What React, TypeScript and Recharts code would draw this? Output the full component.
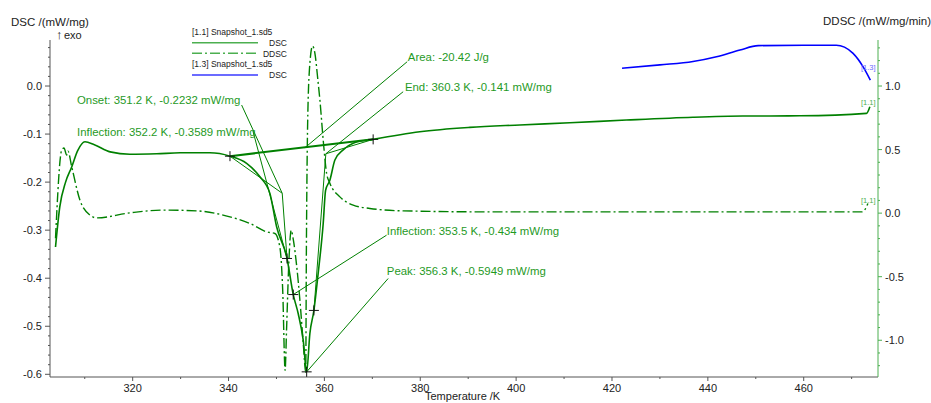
import { ComposedChart, Line, XAxis, YAxis, Scatter, ReferenceLine } from 'recharts'

const FONT = '"Liberation Sans", Arial, sans-serif'
const GREEN = '#008000'
const TEXT_GREEN = '#1f9a1f'
const BLUE = '#0000ff'

// [1.1] DSC  (temperature K, mW/mg)
const dscPoints: [number, number][] = [
  [303.9, -0.335], [304.8, -0.251], [306.0, -0.2], [307.3, -0.168], [308.5, -0.135],
  [310.05, -0.116], [312, -0.122], [315.3, -0.137], [319.4, -0.142], [325, -0.141],
  [329.9, -0.139], [336.1, -0.139], [340.3, -0.146], [343.77, -0.161], [346.55, -0.189],
  [348.63, -0.2235], [350.03, -0.293], [352.2, -0.3589], [353.5, -0.434], [354.53, -0.4735],
  [355.58, -0.529], [356.3, -0.5949], [356.97, -0.515], [357.81, -0.467], [358.7, -0.39],
  [359.75, -0.286], [360.25, -0.217], [361.14, -0.196], [362.19, -0.154], [363.92, -0.133],
  [366.0, -0.119], [370.17, -0.111], [379.91, -0.095], [390.34, -0.086], [400.77, -0.081],
  [411.2, -0.0765], [423.0, -0.0708], [436.9, -0.065], [447.3, -0.0625], [459.2, -0.062],
  [473.1, -0.057], [473.8, -0.043],
]

// [1.1] DDSC  (temperature K, mW/mg/min)
const ddscPoints: [number, number][] = [
  [303.9, -0.197], [305.19, 0.496], [305.67, 0.512], [306.23, 0.457], [306.5, 0.488],
  [307.28, 0.365], [309.0, 0.102], [311.1, -0.016], [312.49, -0.037], [319.43, 0.002],
  [326.38, 0.024], [333.34, 0.018], [340.29, -0.029], [344.46, -0.081], [347.94, -0.147],
  [349.67, -0.16], [350.7, -0.265], [351.3, -0.606], [351.8, -1.236], [352.1, -0.921],
  [352.6, -0.37], [353.07, -0.134], [353.53, -0.213], [354.2, -0.41], [354.89, -0.685],
  [355.62, -1.04], [356.1, -1.252], [356.24, -0.291], [356.45, 0.575], [356.87, 1.126],
  [357.53, 1.315], [358.02, 1.257], [358.64, 1.047], [359.06, 0.89], [359.75, 0.575],
  [360.46, 0.313], [361.14, 0.236], [363.23, 0.128], [366.0, 0.063], [369.49, 0.037],
  [376.43, 0.018], [393.82, 0.01], [411.2, 0.01], [438.3, 0.01], [472.24, 0.01],
  [473.4, 0.076],
]

// [1.3] DSC  (temperature K, mW/mg)
const dsc13Points: [number, number][] = [
  [422.1, 0.037], [430.0, 0.044], [436.9, 0.051], [441.8, 0.061], [446.7, 0.075],
  [450.5, 0.084], [460.0, 0.085], [466.8, 0.085], [468.5, 0.081], [470.3, 0.068],
  [472.4, 0.04], [473.9, 0.0125],
]

// evaluation results
const crossMarks: [number, number][] = [
  [340.3, -0.146], [370.17, -0.111], [352.2, -0.3589], [353.5, -0.434],
  [356.3, -0.5949], [357.81, -0.467],
]
const integrationBase: [number, number][] = [[340.3, -0.146], [370.17, -0.111]]
const leaderLines: [number, number][][] = [
  [[342.73, -0.0396], [351.2, -0.2232]],
  [[345.09, -0.0938], [352.2, -0.3589]],
  [[351.2, -0.2232], [352.2, -0.3589]],
  [[340.3, -0.146], [351.2, -0.2232]],
  [[377.27, 0.0506], [355.93, -0.1285]],
  [[376.43, -0.0119], [360.3, -0.141]],
  [[360.3, -0.141], [357.81, -0.467]],
  [[360.3, -0.141], [370.17, -0.111]],
  [[372.97, -0.3104], [353.5, -0.434]],
  [[373.3, -0.4006], [356.3, -0.5949]],
]
const notes = [
  { T: 308.38, v: -0.0375, text: 'Onset: 351.2 K, -0.2232 mW/mg' },
  { T: 308.38, v: -0.104, text: 'Inflection: 352.2 K, -0.3589 mW/mg' },
  { T: 377.41, v: 0.052, text: 'Area: -20.42 J/g' },
  { T: 376.79, v: -0.0104, text: 'End: 360.3 K, -0.141 mW/mg' },
  { T: 373.03, v: -0.31, text: 'Inflection: 353.5 K, -0.434 mW/mg' },
  { T: 373.03, v: -0.394, text: 'Peak: 356.3 K, -0.5949 mW/mg' },
]
const curveTags = [
  { T: 473.45, v: 0.0344, text: '[1.3]', color: '#6b6bff' },
  { T: 473.45, v: -0.0385, text: '[1.1]', color: '#4caf50' },
  { T: 473.45, v: -0.244, text: '[1.1]', color: '#4caf50' },
]

const xTicks = [310, 320, 330, 340, 350, 360, 370, 380, 390, 400, 410, 420, 430, 440, 450, 460, 470]
const leftMajor = [-0.6, -0.5, -0.4, -0.3, -0.2, -0.1, 0.0]
const rightMajor = [-1.0, -0.5, 0.0, 0.5, 1.0]

const steps = (from: number, to: number, step: number) => {
  const out: number[] = []
  for (let i = 0; from + i * step <= to + 1e-9; i++) out.push(Math.round((from + i * step) * 1000) / 1000)
  return out
}
const leftTicks = steps(-0.6, 0.08, 0.02)
const rightTicks = steps(-1.2, 1.3, 0.1)

const isMajor = (list: number[], v: number) => list.some((m) => Math.abs(m - v) < 1e-6)

const toRows = (pts: [number, number][], key: string) => pts.map(([T, val]) => ({ T, [key]: val }))

const XTick = ({ x, y, payload }: any) => {
  const major = payload.value % 20 === 0
  return (
    <g>
      <line x1={x} x2={x} y1={y} y2={y + (major ? 4 : 2)} stroke="#555" />
      {major && (
        <text x={x} y={y + 15} textAnchor="middle" fontSize={11} fontFamily={FONT} fill="#222">
          {payload.value}
        </text>
      )}
    </g>
  )
}

const LeftTick = ({ x, y, payload }: any) => {
  const major = isMajor(leftMajor, payload.value)
  return (
    <g>
      <line x1={x - (major ? 5 : 2)} x2={x} y1={y} y2={y} stroke="#555" />
      {major && (
        <text x={x - 8} y={y + 4} textAnchor="end" fontSize={11} fontFamily={FONT} fill="#222">
          {payload.value.toFixed(1)}
        </text>
      )}
    </g>
  )
}

const RightTick = ({ x, y, payload }: any) => {
  const major = isMajor(rightMajor, payload.value)
  return (
    <g>
      <line x1={x} x2={x + (major ? 4 : 2)} y1={y} y2={y} stroke="#4caf50" />
      {major && (
        <text x={x + 7} y={y + 4} textAnchor="start" fontSize={11} fontFamily={FONT} fill="#222">
          {payload.value.toFixed(1)}
        </text>
      )}
    </g>
  )
}

const Cross = ({ cx, cy }: any) => (
  <path d={`M${cx - 5},${cy}h10M${cx},${cy - 5}v10`} stroke="#111" strokeWidth={1} />
)

const Note = ({ cx, cy, payload }: any) => (
  <text x={cx} y={cy} fontSize={11.4} fontFamily={FONT} fill={TEXT_GREEN}>
    {payload.text}
  </text>
)

const Tag = ({ cx, cy, payload }: any) => (
  <text x={cx} y={cy} textAnchor="middle" fontSize={7.5} fontFamily={FONT} fill={payload.color}>
    {payload.text}
  </text>
)

export default function App() {
  return (
    <div style={{ position: 'absolute', left: 0, top: 0, width: 931, height: 403, background: '#fff', overflow: 'hidden' }}>
      <ComposedChart width={931} height={403} margin={{ top: 40, right: 0, bottom: 0, left: 0 }}>
        <XAxis
          dataKey="T"
          type="number"
          domain={[302.75, 475.5]}
          ticks={xTicks}
          interval={0}
          tick={<XTick />}
          tickLine={false}
          tickSize={0}
          tickMargin={0}
          height={26}
          stroke="#555"
          allowDataOverflow
        />
        <YAxis
          yAxisId="left"
          type="number"
          domain={[-0.6056, 0.0958]}
          ticks={leftTicks}
          interval={0}
          tick={<LeftTick />}
          tickLine={false}
          tickSize={0}
          tickMargin={0}
          width={50}
          stroke="#555"
          allowDataOverflow
        />
        <YAxis
          yAxisId="right"
          orientation="right"
          type="number"
          domain={[-1.289, 1.362]}
          ticks={rightTicks}
          interval={0}
          tick={<RightTick />}
          tickLine={false}
          tickSize={0}
          tickMargin={0}
          width={53}
          stroke="#4caf50"
          allowDataOverflow
        />
        <Line
          yAxisId="right"
          data={toRows(ddscPoints, 'r')}
          dataKey="r"
          type="monotone"
          stroke={GREEN}
          strokeWidth={1.4}
          strokeDasharray="10 3 2 3"
          dot={false}
          isAnimationActive={false}
        />
        <Line
          yAxisId="left"
          data={toRows(dscPoints, 'v')}
          dataKey="v"
          type="monotone"
          stroke={GREEN}
          strokeWidth={1.6}
          dot={false}
          isAnimationActive={false}
        />
        <Line
          yAxisId="left"
          data={toRows(dsc13Points, 'v')}
          dataKey="v"
          type="monotone"
          stroke={BLUE}
          strokeWidth={1.6}
          dot={false}
          isAnimationActive={false}
        />
        <ReferenceLine
          yAxisId="left"
          segment={integrationBase.map(([x, y]) => ({ x, y }))}
          stroke={GREEN}
          strokeWidth={2}
          ifOverflow="visible"
        />
        {leaderLines.map((seg, i) => (
          <ReferenceLine
            key={i}
            yAxisId="left"
            segment={seg.map(([x, y]) => ({ x, y }))}
            stroke={GREEN}
            strokeWidth={1}
            ifOverflow="visible"
          />
        ))}
        <Scatter
          yAxisId="left"
          data={crossMarks.map(([T, v]) => ({ T, v }))}
          dataKey="v"
          shape={<Cross />}
          isAnimationActive={false}
        />
        <Scatter yAxisId="left" data={notes} dataKey="v" shape={<Note />} isAnimationActive={false} />
        <Scatter yAxisId="left" data={curveTags} dataKey="v" shape={<Tag />} isAnimationActive={false} />
      </ComposedChart>
      <svg
        width={931}
        height={403}
        style={{ position: 'absolute', left: 0, top: 0, pointerEvents: 'none' }}
        fontFamily={FONT}
      >
        <text x={11} y={26} fontSize={11.5} fill="#222">DSC /(mW/mg)</text>
        <text x={56} y={39} fontSize={13} fill="#222">↑</text>
        <text x={64} y={39} fontSize={11} fill="#222">exo</text>
        <text x={931} y={25} fontSize={11.5} fill="#222" textAnchor="end">DDSC /(mW/mg/min)</text>
        <text x={425} y={400} fontSize={11} fill="#222">Temperature /K</text>

        <text x={192} y={35} fontSize={8.5} fill="#222">[1.1] Snapshot_1.sd5</text>
        <line x1={192} x2={258} y1={42.7} y2={42.7} stroke="#4caf50" strokeWidth={1.5} />
        <text x={287} y={46} fontSize={8.5} fill="#222" textAnchor="end">DSC</text>
        <line x1={192} x2={258} y1={53.3} y2={53.3} stroke="#4caf50" strokeWidth={1.5} strokeDasharray="10 3 2 3" />
        <text x={287} y={56.5} fontSize={8.5} fill="#222" textAnchor="end">DDSC</text>
        <text x={192} y={67} fontSize={8.5} fill="#222">[1.3] Snapshot_1.sd5</text>
        <line x1={192} x2={258} y1={75} y2={75} stroke="#3a3aff" strokeWidth={1.5} />
        <text x={287} y={78} fontSize={8.5} fill="#222" textAnchor="end">DSC</text>
      </svg>
    </div>
  )
}
